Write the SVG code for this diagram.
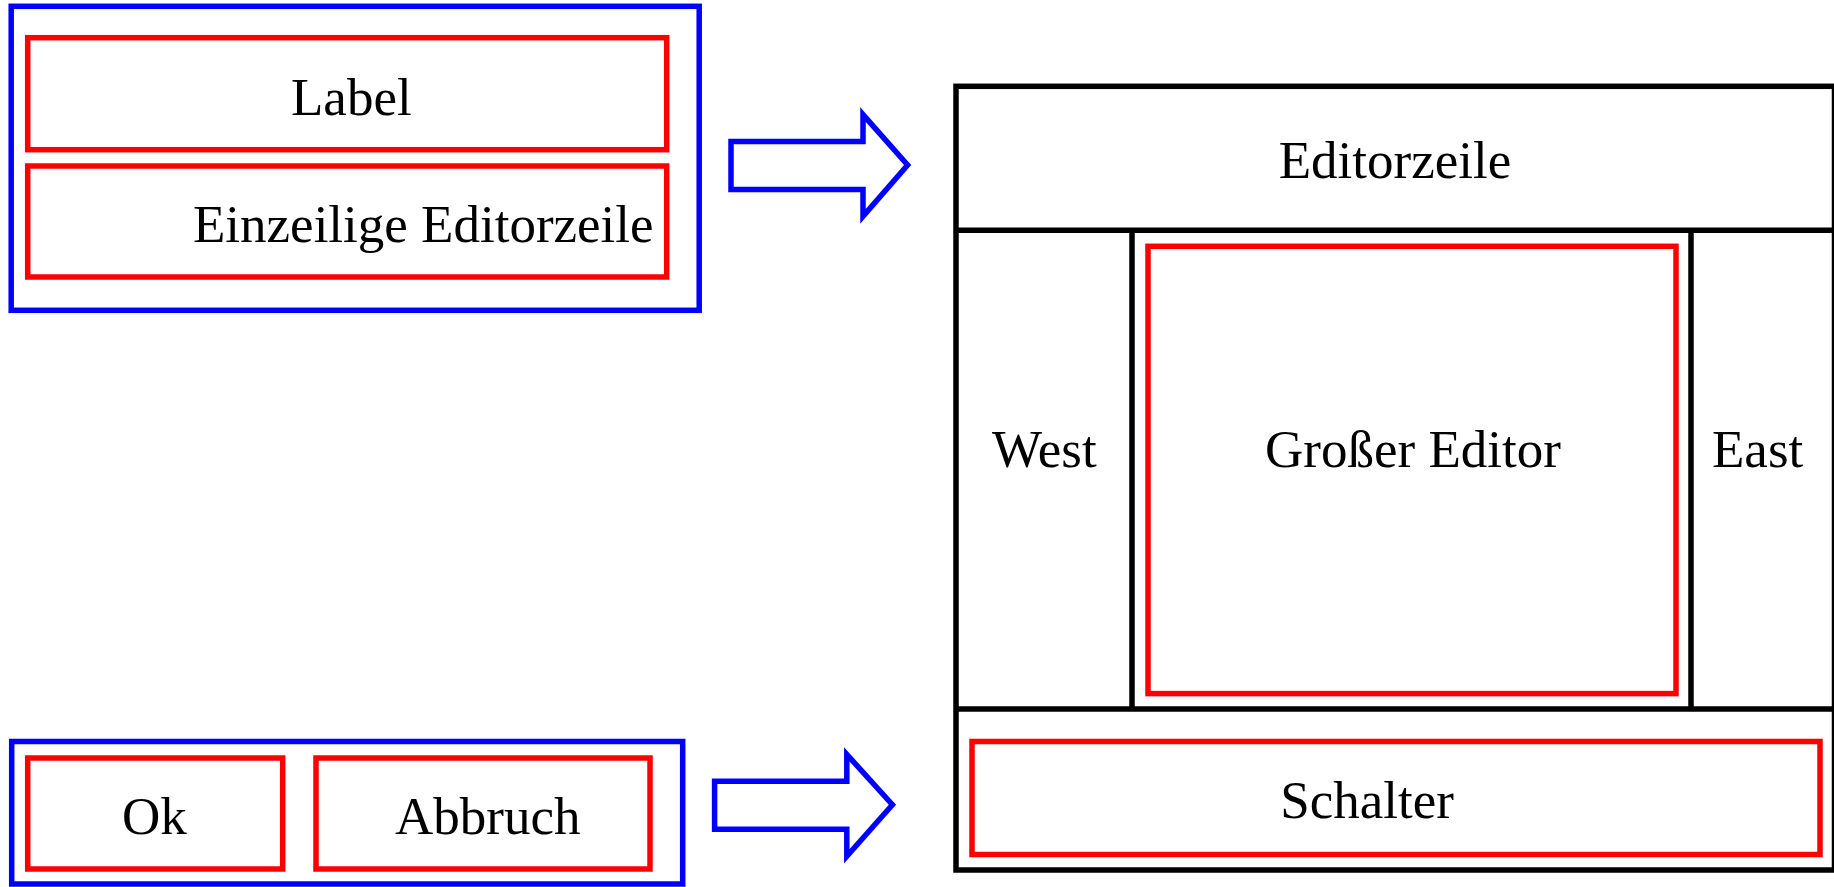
<svg xmlns="http://www.w3.org/2000/svg" width="1834" height="887" viewBox="0 0 1834 887">
<style>
.blue{fill:none;stroke:#0000ff;stroke-width:5.5}
.red{fill:none;stroke:#ff0000;stroke-width:5.5}
.blk{fill:none;stroke:#000;stroke-width:5.5}
.arrow{fill:#fff;stroke:#0000ff;stroke-width:5.5}
text{font-family:"Liberation Serif","Times New Roman",serif;font-size:53px;fill:#000}
</style>
<rect width="1834" height="887" fill="#fff"/>
<g id="panel-top">
<rect class="blue" x="11.2" y="6.3" width="688" height="304"/>
<g id="label"><rect class="red" x="27.7" y="37.7" width="639" height="112"/><text x="291" y="114.6">Label</text></g>
<g id="einzeilige"><rect class="red" x="27.7" y="166" width="639" height="111"/><text x="193" y="242">Einzeilige Editorzeile</text></g>
</g>
<g id="panel-bottom">
<rect class="blue" x="11.7" y="741.5" width="671" height="142.5"/>
<g id="ok"><rect class="red" x="27.7" y="758" width="255" height="111"/><text x="122" y="834">Ok</text></g>
<g id="abbruch"><rect class="red" x="316" y="758" width="334" height="111"/><text x="395" y="834">Abbruch</text></g>
</g>
<g id="connectors">
<polygon class="arrow" points="731,141.5 863,141.5 863,114.6 907.6,165 863,216.4 863,189.5 731,189.5"/>
<polygon class="arrow" points="714.6,781.3 846.8,781.3 846.8,754.4 892.4,804.7 846.8,856.2 846.8,829.3 714.6,829.3"/>
</g>
<g id="layout">
<rect class="blk" x="956" y="86.3" width="878.5" height="783.7"/>
<line class="blk" x1="956" y1="230.3" x2="1834.5" y2="230.3"/>
<line class="blk" x1="956" y1="709" x2="1834.5" y2="709"/>
<line class="blk" x1="1132" y1="230.3" x2="1132" y2="709"/>
<line class="blk" x1="1691" y1="230.3" x2="1691" y2="709"/>
<g id="editorzeile"><text x="1395" y="177.8" text-anchor="middle">Editorzeile</text></g>
<g id="west"><text x="992" y="466.7">West</text></g>
<g id="grosser-editor"><rect class="red" x="1148" y="246.3" width="528" height="447.3"/><text x="1413" y="466.7" text-anchor="middle">Großer Editor</text></g>
<g id="east"><text x="1712" y="466.7">East</text></g>
<g id="schalter"><rect class="red" x="972" y="741.5" width="848" height="113"/><text x="1367" y="817.6" text-anchor="middle">Schalter</text></g>
</g>
</svg>
